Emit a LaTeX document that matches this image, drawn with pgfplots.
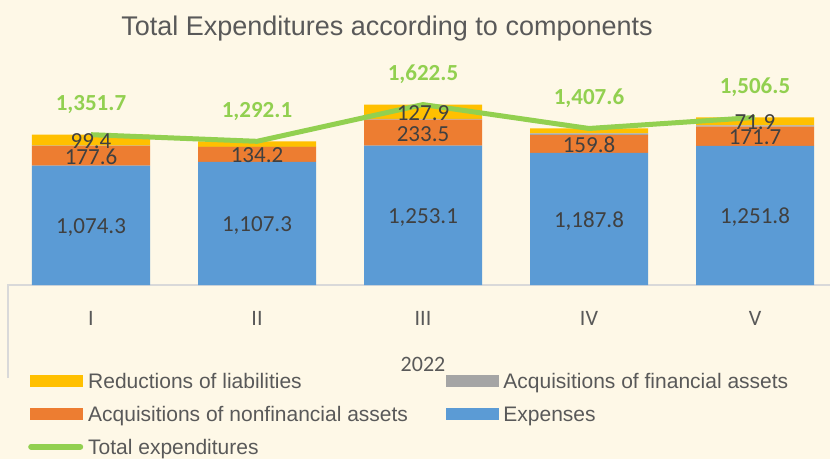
\documentclass[border=0pt]{standalone}
\usepackage{pgfplots}
\pgfplotsset{compat=1.18}
\usepackage{pgfplotstable}
\usepackage{fontspec}
\setmainfont{Carlito}
\newfontfamily\arial{Liberation Sans}
\definecolor{bgc}{HTML}{FEF8E7}
\definecolor{cblue}{HTML}{5B9BD5}
\definecolor{corange}{HTML}{ED7D31}
\definecolor{cgray}{HTML}{A5A5A5}
\definecolor{cyel}{HTML}{FFC000}
\definecolor{cgreen}{HTML}{92D050}
\definecolor{labc}{HTML}{404040}
\definecolor{tickc}{HTML}{595959}
\definecolor{axisgray}{HTML}{D9D9D9}

\pgfplotstableread{
x exp nonfin fin red total expL nonfinL redL totL
0 1074.3 177.6 0.4 99.4 1351.7 1,074.3 177.6 99.4 1,351.7
1 1107.3 134.2 0.6 50.0 1292.1 1,107.3 134.2 {} 1,292.1
2 1253.1 233.5 8.0 127.9 1622.5 1,253.1 233.5 127.9 1,622.5
3 1187.8 159.8 15.0 45.0 1407.6 1,187.8 159.8 {} 1,407.6
4 1251.8 171.7 11.1 71.9 1506.5 1,251.8 171.7 71.9 1,506.5
}\data

\pgfplotsset{base/.style={at={(8pt,174pt)}, anchor=south west, scale only axis,
  width=830pt, height=222.4pt, xmin=-0.5, xmax=4.5, ymin=0, ymax=2000, clip=false},
  seglab/.style={only marks, mark=none, nodes near coords, point meta=explicit symbolic,
  every node near coord/.append style={anchor=base, yshift=-8.5pt,
  font=\fontsize{23}{27}\selectfont, text=labc}}}

\begin{document}
\begin{tikzpicture}
\fill[bgc] (0,0) rectangle (830pt,459pt);
\node[font=\arial\fontsize{27}{31}\selectfont, text=tickc] at (387pt,430pt) {Total Expenditures according to components};
\begin{axis}[base, ybar stacked, bar width=118pt,
  axis y line=none, axis x line*=bottom,
  x axis line style={draw=axisgray, line width=1.5pt, -},
  xtick={0,1,2,3,4}, xticklabels={I,II,III,IV,V}, major tick length=0pt,
  xticklabel style={anchor=center, yshift=-33pt, font=\fontsize{22}{26}\selectfont, text=tickc},
  xlabel={2022},
  xlabel style={at={(axis description cs:0.5,0)}, anchor=center, yshift=-79pt, font=\fontsize{22}{26}\selectfont, text=tickc},
  legend columns=2,
  legend style={at={(axis description cs:0.0241,-0.3955)}, anchor=north west,
    draw=none, fill=none, inner sep=0pt, row sep=14pt,
    font=\arial\fontsize{21}{25}\selectfont, text=tickc,
    nodes={inner sep=0pt, text height=15pt, text depth=4pt},
    /tikz/every odd column/.append style={column sep=5pt},
    /tikz/every even column/.append style={column sep=38pt}},
  legend cell align=left]
\addplot[fill=cblue, draw=none, forget plot] table[x=x,y=exp]{\data};
\addplot[fill=corange, draw=none, forget plot] table[x=x,y=nonfin]{\data};
\addplot[fill=cgray, draw=none, forget plot] table[x=x,y=fin]{\data};
\addplot[fill=cyel, draw=none, forget plot] table[x=x,y=red]{\data};
\addlegendimage{legend image code/.code={\fill[cyel] (0pt,-3.5pt) rectangle (52pt,7.5pt);}}
\addlegendentry{Reductions of liabilities}
\addlegendimage{legend image code/.code={\fill[cgray] (0pt,-3.5pt) rectangle (52pt,7.5pt);}}
\addlegendentry{Acquisitions of financial assets}
\addlegendimage{legend image code/.code={\fill[corange] (0pt,-3.5pt) rectangle (52pt,7.5pt);}}
\addlegendentry{Acquisitions of nonfinancial assets}
\addlegendimage{legend image code/.code={\fill[cblue] (0pt,-3.5pt) rectangle (52pt,7.5pt);}}
\addlegendentry{Expenses}
\addlegendimage{legend image code/.code={\draw[cgreen, line width=6pt, line cap=round] (1pt,2pt) -- (50pt,2pt);}}
\addlegendentry{Total expenditures}
\end{axis}
\begin{axis}[base, hide axis]
\addplot[cgreen, line width=5pt, mark=none, line join=round,
  nodes near coords, point meta=explicit symbolic,
  every node near coord/.append style={anchor=center, yshift=30pt,
  font=\bfseries\fontsize{23}{27}\selectfont, text=cgreen}]
  table[x=x, y=total, meta=totL]{\data};
\addplot[seglab] table[x=x, y expr=\thisrow{exp}/2, meta=expL]{\data};
\addplot[seglab] table[x=x, y expr=\thisrow{exp}+\thisrow{nonfin}/2, meta=nonfinL]{\data};
\addplot[seglab] table[x=x, y expr=\thisrow{exp}+\thisrow{nonfin}+\thisrow{fin}+\thisrow{red}/2, meta=redL]{\data};
\end{axis}
\draw[axisgray, line width=1.5pt] (8pt,174.75pt) -- (8pt,81pt);
\pgfresetboundingbox
\path[use as bounding box] (0,0) rectangle (830pt,459pt);
\end{tikzpicture}
\end{document}
